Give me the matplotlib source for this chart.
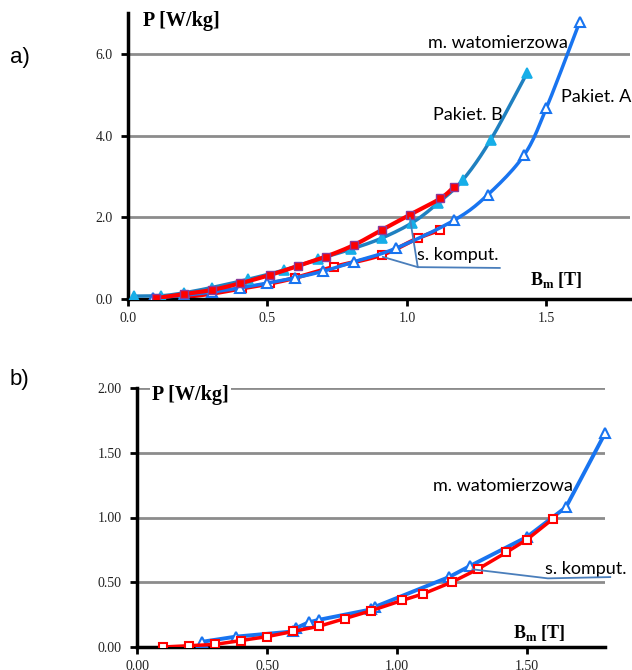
import numpy as np
import matplotlib
matplotlib.use("Agg")
import matplotlib.pyplot as plt

plt.rcParams["mathtext.fontset"] = "custom"
plt.rcParams["mathtext.bf"] = "Liberation Serif:bold"
plt.rcParams["mathtext.rm"] = "Liberation Serif"

# ---------------- data: panel a) ----------------
a_wat_A_B = [0.09, 0.2, 0.3, 0.4, 0.5, 0.6, 0.7, 0.81, 0.96, 1.17, 1.29, 1.42, 1.50, 1.62]
a_wat_A_P = [0.02, 0.09, 0.17, 0.27, 0.39, 0.52, 0.68, 0.91, 1.24, 1.93, 2.55, 3.52, 4.67, 6.79]

a_wat_B_B = [0.02, 0.12, 0.2, 0.3, 0.43, 0.56, 0.68, 0.80, 0.91, 1.02, 1.11, 1.20, 1.30, 1.43]
a_wat_B_P = [0.07, 0.08, 0.15, 0.28, 0.48, 0.71, 0.97, 1.22, 1.49, 1.87, 2.34, 2.91, 3.89, 5.52]

a_kom_B_B = [0.1, 0.2, 0.3, 0.4, 0.51, 0.61, 0.71, 0.81, 0.91, 1.01, 1.12, 1.17]
a_kom_B_P = [0.02, 0.12, 0.22, 0.38, 0.59, 0.81, 1.04, 1.32, 1.69, 2.06, 2.46, 2.75]

a_kom_A_B = [0.1, 0.2, 0.3, 0.41, 0.51, 0.6, 0.74, 0.91, 1.04, 1.12]
a_kom_A_P = [0.01, 0.05, 0.13, 0.26, 0.38, 0.52, 0.79, 1.08, 1.49, 1.69]

a_xticks = [0.0, 0.5, 1.0, 1.5]
a_yticks = [0.0, 2.0, 4.0, 6.0]

# ---------------- data: panel b) ----------------
b_wat_B = [0.25, 0.38, 0.60, 0.61, 0.66, 0.70, 0.90, 0.915, 1.20, 1.28, 1.50, 1.65, 1.80]
b_wat_P = [0.04, 0.08, 0.12, 0.145, 0.19, 0.21, 0.29, 0.31, 0.54, 0.625, 0.85, 1.08, 1.65]

b_kom_B = [0.10, 0.20, 0.30, 0.40, 0.50, 0.60, 0.70, 0.80, 0.90, 1.02, 1.10, 1.21, 1.31, 1.42, 1.50, 1.60]
b_kom_P = [0.00, 0.01, 0.02, 0.05, 0.08, 0.12, 0.16, 0.22, 0.28, 0.36, 0.41, 0.50, 0.60, 0.73, 0.83, 0.99]

b_xticks = [0.0, 0.5, 1.0, 1.5]
b_yticks = [0.0, 0.5, 1.0, 1.5, 2.0]

# ---------------- style ----------------
BLUE = "#1874f0"
TEAL = "#1f80c0"
CYAN = "#16aee8"
RED = "#ff0000"
GRID = "#8c8c8c"
LEADER = "#4a7ebb"
SERIF = ["Liberation Serif", "DejaVu Serif"]
SANS = ["Lato", "Open Sans", "DejaVu Sans"]
ANN = 13

fig = plt.figure(figsize=(6.32, 6.70), dpi=100)


def smooth(x, y):
    x = np.asarray(x, float)
    y = np.asarray(y, float)
    xs, ys = [], []
    pts = np.column_stack([x, y])
    P = np.vstack([pts[0], pts, pts[-1]])
    for i in range(1, len(P) - 2):
        p0, p1, p2, p3 = P[i - 1], P[i], P[i + 1], P[i + 2]
        for s in np.linspace(0, 1, 12, endpoint=False):
            s2, s3 = s * s, s * s * s
            pt = 0.5 * ((2 * p1) + (-p0 + p2) * s + (2 * p0 - 5 * p1 + 4 * p2 - p3) * s2
                        + (-p0 + 3 * p1 - 3 * p2 + p3) * s3)
            xs.append(pt[0]); ys.append(pt[1])
    xs.append(x[-1]); ys.append(y[-1])
    return np.array(xs), np.array(ys)


def style_axes(ax, xlim, ylim, xticks, yticks, fmt_x, fmt_y, grid_vals):
    ax.set_xlim(*xlim)
    ax.set_ylim(*ylim)
    for s in ["top", "right"]:
        ax.spines[s].set_visible(False)
    for s in ["left", "bottom"]:
        ax.spines[s].set_linewidth(2.5)
        ax.spines[s].set_color("black")
    ax.set_xticks(xticks)
    ax.set_yticks(yticks)
    ax.set_xticklabels([fmt_x.format(v) for v in xticks], fontfamily=SERIF, fontsize=10, color="#222222")
    ax.set_yticklabels([fmt_y.format(v) for v in yticks], fontfamily=SERIF, fontsize=10, color="#222222")
    ax.tick_params(direction="out", length=5, width=2)
    ax.tick_params(axis="x", pad=4)
    ax.tick_params(axis="y", pad=6)
    for g in grid_vals:
        ax.axhline(g, color=GRID, lw=2, zorder=0)
    ax.patch.set_alpha(0)


BM = r"$\mathbf{B}_{\mathbf{m}}$ [T]"

# ---------------- panel a ----------------
axa = fig.add_axes([128 / 632, 1 - 299 / 670, 502 / 632, 286 / 670])
style_axes(axa, (0, 1.8), (0, 7.0), a_xticks, a_yticks, "{:.1f}", "{:.1f}", [2.0, 4.0, 6.0])

xs, ys = smooth(a_wat_A_B, a_wat_A_P)
axa.plot(xs, ys, color=BLUE, lw=2.5, zorder=3)
axa.plot(a_wat_A_B, a_wat_A_P, ls="none", marker="^", ms=7, mfc="white", mec=BLUE, mew=1.5, zorder=4)

xs, ys = smooth(a_wat_B_B, a_wat_B_P)
axa.plot(xs, ys, color=TEAL, lw=2.5, zorder=3)
axa.plot(a_wat_B_B, a_wat_B_P, ls="none", marker="^", ms=7, mfc=CYAN, mec=CYAN, mew=1.2, zorder=4)

xs, ys = smooth(a_kom_B_B, a_kom_B_P)
axa.plot(xs, ys, color=RED, lw=3, zorder=5)
axa.plot(a_kom_B_B, a_kom_B_P, ls="none", marker="s", ms=6, mfc=RED, mec="#8a3a9a", mew=1.0, zorder=6)

xs, ys = smooth(a_kom_A_B, a_kom_A_P)
axa.plot(xs, ys, color=RED, lw=3, zorder=2)
axa.plot(a_kom_A_B, a_kom_A_P, ls="none", marker="s", ms=6, mfc="white", mec=RED, mew=1.5, zorder=2)

# leader lines for "s. komput."
axa.plot([1.011, 1.039, 1.333], [1.98, 0.78, 0.76], color=LEADER, lw=1.3, zorder=7)
axa.plot([0.914, 1.039], [1.03, 0.78], color=LEADER, lw=1.3, zorder=7)

axa.text(1.036, 1.08, "s. komput.", fontfamily=SANS, fontsize=ANN, va="center", ha="left", zorder=8)
axa.text(1.075, 6.27, "m. watomierzowa", fontfamily=SANS, fontsize=ANN, va="center", ha="left")
axa.text(1.093, 4.5, "Pakiet. B", fontfamily=SANS, fontsize=ANN, va="center", ha="left")
axa.text(1.552, 4.94, "Pakiet. A", fontfamily=SANS, fontsize=ANN, va="center", ha="left")
axa.text(1.44, 0.47, BM, fontfamily=SERIF, fontsize=13, fontweight="bold", va="center", ha="left")
axa.text(0.054, 6.8, "P [W/kg]", fontfamily=SERIF, fontsize=14.5, fontweight="bold", va="center", ha="left")

fig.text(10 / 632, 1 - 57 / 670, "a)", fontfamily=["Liberation Sans", "DejaVu Sans"], fontsize=16,
         va="center", ha="left")

# ---------------- panel b ----------------
axb = fig.add_axes([137 / 632, 1 - 647 / 670, 468 / 632, 259 / 670])
style_axes(axb, (0, 1.8), (0, 2.0), b_xticks, b_yticks, "{:.2f}", "{:.2f}", [0.5, 1.0, 1.5, 2.0])

axb.plot(b_wat_B, b_wat_P, color=BLUE, lw=2.8, zorder=3, clip_on=False)
axb.plot(b_wat_B, b_wat_P, ls="none", marker="^", ms=7, mfc="white", mec=BLUE, mew=1.5, zorder=4,
         clip_on=False)
axb.plot(b_kom_B, b_kom_P, color=RED, lw=2.5, zorder=5)
axb.plot(b_kom_B, b_kom_P, ls="none", marker="s", ms=6, mfc="white", mec=RED, mew=1.5, zorder=6)

axb.plot([1.29, 1.58, 1.82], [0.60, 0.53, 0.54], color=LEADER, lw=1.3, zorder=7, clip_on=False)
axb.text(1.57, 0.60, "s. komput.", fontfamily=SANS, fontsize=ANN, va="center", ha="left")
axb.text(1.138, 1.24, "m. watomierzowa", fontfamily=SANS, fontsize=ANN, va="center", ha="left")
axb.text(1.446, 0.108, BM, fontfamily=SERIF, fontsize=13, fontweight="bold", va="center", ha="left")
axb.text(0.058, 1.944, "P [W/kg]", fontfamily=SERIF, fontsize=14.5, fontweight="bold", va="center",
         ha="left", bbox=dict(facecolor="white", edgecolor="none", pad=1.5), zorder=9)

fig.text(10 / 632, 1 - 380 / 670, "b)", fontfamily=["Liberation Sans", "DejaVu Sans"], fontsize=16,
         va="center", ha="left")

fig.savefig("out.png", dpi=100)
